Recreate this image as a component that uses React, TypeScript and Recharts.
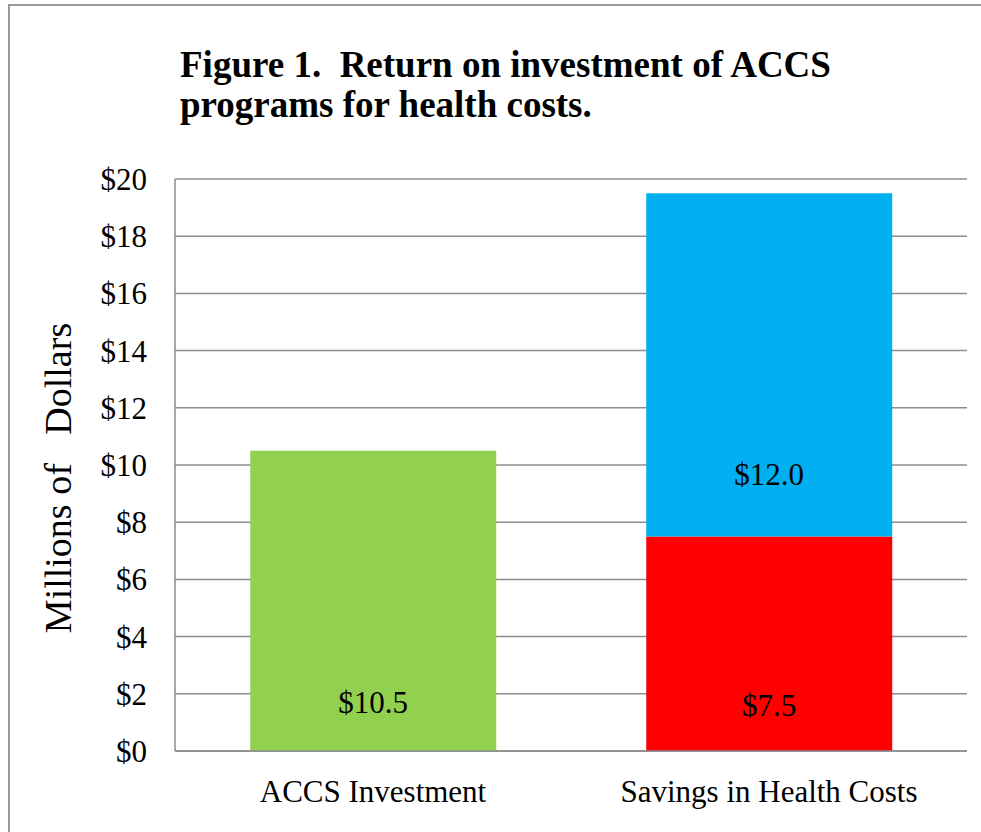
import { BarChart, Bar, XAxis, YAxis, CartesianGrid, LabelList } from 'recharts';

const categories = ['ACCS Investment', 'Savings in Health Costs'];
const investment = [10.5, null];
const savingsRed = [null, 7.5];
const savingsBlue = [null, 12.0];
const yTicks = [0, 2, 4, 6, 8, 10, 12, 14, 16, 18, 20];

const data = categories.map((name, i) => ({
  name,
  investment: investment[i],
  savingsRed: savingsRed[i],
  savingsBlue: savingsBlue[i],
}));

const FONT = '"Liberation Serif", "Times New Roman", serif';
const GRID = '#8c8c8c';

// label sits a fixed distance above the base of its bar segment
const baseLabel = (lift: number) => (props: any) => {
  const { x, y, width, height, value } = props;
  if (value == null) return null;
  return (
    <text
      x={x + width / 2}
      y={y + height - lift}
      textAnchor="middle"
      dominantBaseline="central"
      fontFamily={FONT}
      fontSize={31}
      fill="#000"
    >
      ${Number(value).toFixed(1)}
    </text>
  );
};

export default function App() {
  return (
    <div style={{ position: 'fixed', left: 0, top: 0, width: 981, height: 832, background: '#fff', overflow: 'hidden' }}>
      {/* frame: only left and top edges fall inside the picture */}
      <svg width={981} height={832} style={{ position: 'absolute', left: 0, top: 0 }}>
        <path d="M9 840 V5 H990" fill="none" stroke="#999" strokeWidth={2} />
      </svg>
      <div
        style={{
          position: 'absolute', left: 180, top: 45, fontFamily: FONT, fontWeight: 'bold',
          fontSize: 37, lineHeight: '40px', color: '#000', whiteSpace: 'pre',
        }}
      >
        {'Figure 1.  Return on investment of ACCS\nprograms for health costs.'}
      </div>
      <div style={{ position: 'absolute', left: 0, top: 0 }}>
        <BarChart
          width={981}
          height={832}
          data={data}
          margin={{ top: 179, right: 14, bottom: 51, left: 0 }}
          barCategoryGap="19%"
        >
          <CartesianGrid vertical={false} stroke={GRID} strokeWidth={1.5} />
          <XAxis
            dataKey="name"
            height={30}
            axisLine={{ stroke: GRID, strokeWidth: 1.5 }}
            tickLine={false}
            tickSize={0}
            tickMargin={29}
            tick={{ fill: '#000', fontSize: 31, fontFamily: FONT }}
          />
          <YAxis
            width={175}
            domain={[0, 20]}
            ticks={yTicks}
            interval={0}
            axisLine={{ stroke: GRID, strokeWidth: 1.5 }}
            tickLine={false}
            tickSize={0}
            tickMargin={28}
            tickFormatter={(v) => `$${v}`}
            tick={{ fill: '#000', fontSize: 31, fontFamily: FONT }}
            label={{
              content: (p: any) => {
                const vb = p.viewBox;
                const cy = vb.y + vb.height / 2 + 13;
                return (
                  <text
                    x={58}
                    y={cy}
                    transform={`rotate(-90 58 ${cy})`}
                    textAnchor="middle"
                    dominantBaseline="central"
                    fontFamily={FONT}
                    fontSize={38}
                    fill="#000"
                    style={{ whiteSpace: 'pre' }}
                  >
                    {'Millions of   Dollars'}
                  </text>
                );
              },
            }}
          />
          <Bar dataKey="investment" stackId="a" fill="#92D050" isAnimationActive={false}>
            <LabelList dataKey="investment" content={baseLabel(49)} />
          </Bar>
          <Bar dataKey="savingsRed" stackId="a" fill="#FF0000" isAnimationActive={false}>
            <LabelList dataKey="savingsRed" content={baseLabel(46)} />
          </Bar>
          <Bar dataKey="savingsBlue" stackId="a" fill="#00B0F0" isAnimationActive={false}>
            <LabelList dataKey="savingsBlue" content={baseLabel(62)} />
          </Bar>
        </BarChart>
      </div>
    </div>
  );
}
